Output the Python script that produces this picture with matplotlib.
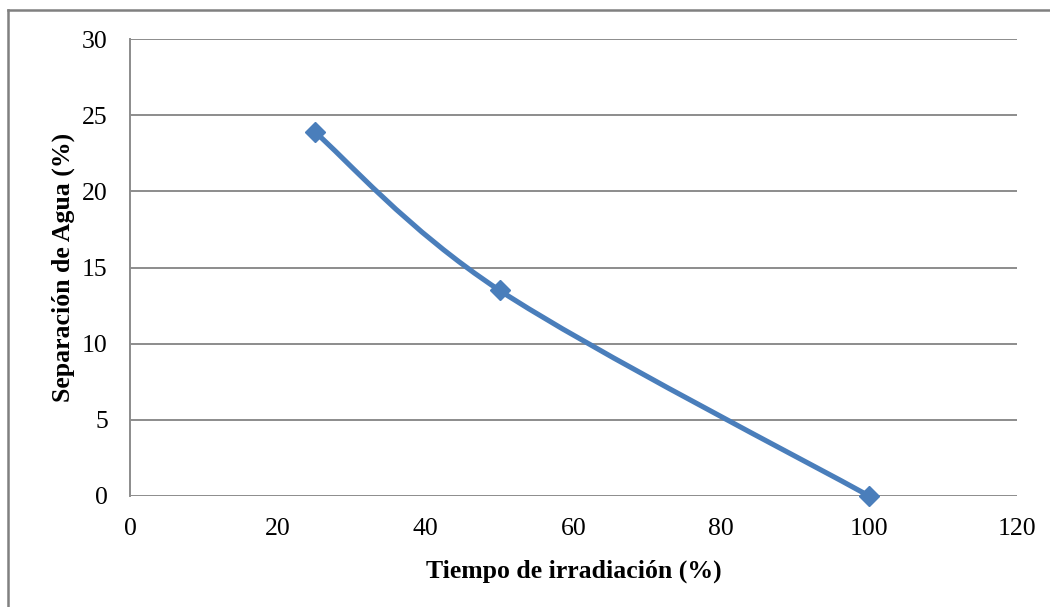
import numpy as np
import matplotlib
matplotlib.use("Agg")
import matplotlib.pyplot as plt
from matplotlib.path import Path
from matplotlib.patches import PathPatch
from matplotlib.lines import Line2D

# Data
tiempo = [25, 50, 100]
separacion = [23.9, 13.5, 0]
x_ticks = [0, 20, 40, 60, 80, 100, 120]
y_ticks = [0, 5, 10, 15, 20, 25, 30]

BLUE = "#4A7EBB"
GRID = "#8C8C8C"

plt.rcParams["font.family"] = ["Liberation Serif", "DejaVu Serif"]


# Smoothed line (bezier through the points, spreadsheet style)
def smooth_path(xs, ys):
    pts = np.column_stack([xs, ys]).astype(float)
    verts = [pts[0]]
    codes = [Path.MOVETO]
    n = len(pts)
    for i in range(n - 1):
        p0 = pts[i - 1] if i > 0 else pts[i]
        p1 = pts[i]
        p2 = pts[i + 1]
        p3 = pts[i + 2] if i + 2 < n else pts[i + 1]
        c1 = p1 + (p2 - p0) / 6.0
        c2 = p2 - (p3 - p1) / 6.0
        verts += [c1, c2, p2]
        codes += [Path.CURVE4] * 3
    return Path(verts, codes)


fig = plt.figure(figsize=(10.5, 6.07), dpi=100)
ax = fig.add_axes([130 / 1050, 1 - 496 / 607, 887 / 1050, 457 / 607])

# Line and markers
ax.add_patch(PathPatch(smooth_path(tiempo, separacion), facecolor="none",
                       edgecolor=BLUE, lw=3.7, capstyle="round", zorder=3))
ax.plot(tiempo, separacion, linestyle="none", marker="D", markersize=10,
        color=BLUE, zorder=4, clip_on=False)

# Axes
ax.set_xlim(0, 120)
ax.set_ylim(0, 30)
ax.set_xticks(x_ticks)
ax.set_yticks(y_ticks)
ax.tick_params(length=0, labelsize=18.5)
ax.tick_params(axis="y", pad=16)
ax.tick_params(axis="x", pad=16)
ax.yaxis.grid(True, color=GRID, lw=1.4)
ax.set_axisbelow(True)
for side in ["top", "right", "bottom"]:
    ax.spines[side].set_visible(False)
ax.spines["left"].set_color(GRID)
ax.spines["left"].set_linewidth(1.4)

# Titles
ax.set_xlabel("Tiempo de irradiación (%)", fontsize=18.5, fontweight="bold", labelpad=14)
ax.set_ylabel("Separación de Agua (%)", fontsize=18.5, fontweight="bold", labelpad=5)

# Chart frame
fig.add_artist(Line2D([8 / 1050, 8 / 1050], [0, 1 - 10 / 607], color="#808080", lw=1.8))
fig.add_artist(Line2D([8 / 1050, 1], [1 - 10 / 607, 1 - 10 / 607], color="#808080", lw=1.8))

fig.savefig("out.png", dpi=100, facecolor="white")
